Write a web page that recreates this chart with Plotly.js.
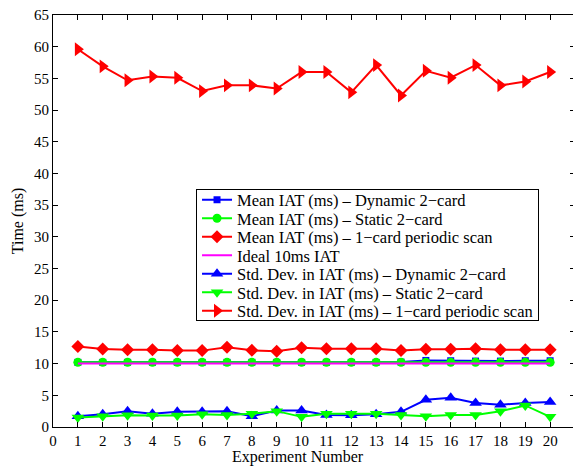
<!DOCTYPE html>
<html>
<head>
<meta charset="utf-8">
<script src="https://cdn.plot.ly/plotly-3.0.1.min.js"></script>
<style>html,body{margin:0;padding:0;overflow:hidden;background:#fff;}#chart{width:600px;height:466px;}</style>
</head>
<body>
<div id="chart"></div>
<script>
var experiments = [1,2,3,4,5,6,7,8,9,10,11,12,13,14,15,16,17,18,19,20];
var meanDynamic = [10.2,10.2,10.2,10.2,10.2,10.2,10.2,10.2,10.2,10.2,10.2,10.2,10.2,10.25,10.5,10.45,10.4,10.4,10.45,10.45];
var meanStatic = [10.2,10.2,10.2,10.2,10.2,10.2,10.2,10.2,10.2,10.2,10.2,10.2,10.2,10.2,10.2,10.2,10.2,10.2,10.2,10.2];
var mean1Card = [12.7,12.3,12.2,12.2,12.05,12.05,12.6,12.1,11.95,12.5,12.35,12.35,12.35,12.05,12.25,12.25,12.35,12.2,12.2,12.2];
var ideal = [10,10,10,10,10,10,10,10,10,10,10,10,10,10,10,10,10,10,10,10];
var stdDynamic = [1.7,2.0,2.5,2.1,2.4,2.4,2.5,1.7,2.6,2.6,1.9,1.85,2.0,2.4,4.3,4.6,3.8,3.5,3.8,3.95];
var stdStatic = [1.5,1.7,1.85,1.8,1.8,2.0,1.9,2.1,2.5,1.6,2.1,2.1,2.1,1.9,1.7,1.9,1.9,2.5,3.4,1.6];
var std1Card = [59.6,56.9,54.7,55.3,55.1,53.0,53.9,53.9,53.4,56.0,56.0,52.8,57.1,52.3,56.2,55.1,57.1,53.9,54.5,56.0];
var names = [
  'Mean IAT (ms) \u2013 Dynamic 2\u2212card',
  'Mean IAT (ms) \u2013 Static 2\u2212card',
  'Mean IAT (ms) \u2013 1\u2212card periodic scan',
  'Ideal 10ms IAT',
  'Std. Dev. in IAT (ms) \u2013 Dynamic 2\u2212card',
  'Std. Dev. in IAT (ms) \u2013 Static 2\u2212card',
  'Std. Dev. in IAT (ms) \u2013 1\u2212card periodic scan'
];
var xTicks = [0,1,2,3,4,5,6,7,8,9,10,11,12,13,14,15,16,17,18,19,20];
var yTicks = [0,5,10,15,20,25,30,35,40,45,50,55,60,65];

function tr(y, name, color, symbol, size, mode) {
  return {x: experiments, y: y, name: name, type: 'scatter', mode: mode || 'lines+markers',
    line: {color: color, width: 2}, marker: {color: color, symbol: symbol, size: size}};
}
var data = [
  tr(meanDynamic, names[0], '#0000ff', 'square', 7),
  tr(meanStatic, names[1], '#00ff00', 'circle', 9),
  tr(mean1Card, names[2], '#ff0000', 'diamond', 10),
  tr(ideal, names[3], '#ff00ff', 'circle', 1, 'lines'),
  tr(stdDynamic, names[4], '#0000ff', 'triangle-up', 11),
  tr(stdStatic, names[5], '#00ff00', 'triangle-down', 11),
  tr(std1Card, names[6], '#ff0000', 'triangle-right', 12)
];
var fontFam = 'Liberation Serif, Times New Roman, serif';
var layout = {
  width: 600, height: 466,
  margin: {l: 53, r: 25, t: 15, b: 39},
  paper_bgcolor: '#fff', plot_bgcolor: '#fff',
  font: {family: fontFam, size: 15, color: '#000'},
  showlegend: true,
  legend: {x: 0.274, y: 0.577, xanchor: 'left', yanchor: 'top',
    bgcolor: '#fff', bordercolor: '#000', borderwidth: 1,
    font: {family: fontFam, size: 16.5, color: '#000'}, itemwidth: 30, tracegroupgap: 0},
  xaxis: {range: [0, 21], tickvals: xTicks, ticktext: xTicks.map(String),
    ticks: 'inside', ticklen: 5, tickcolor: '#000', showline: true, linecolor: '#000', linewidth: 1,
    mirror: 'allticks', showgrid: false, zeroline: false, tickfont: {size: 15}},
  yaxis: {range: [0, 65], tickvals: yTicks, ticks: 'inside', ticklen: 5, tickcolor: '#000',
    showline: true, linecolor: '#000', linewidth: 1, mirror: 'allticks', showgrid: false, zeroline: false,
    tickfont: {size: 15}, title: {text: 'Time (ms)', font: {size: 16}, standoff: 6}},
  annotations: [{text: 'Experiment Number', xref: 'paper', yref: 'paper', x: 0.47, y: 0,
    xanchor: 'center', yanchor: 'top', yshift: -19, showarrow: false, font: {size: 16, family: fontFam}}]
};
Plotly.newPlot('chart', data, layout, {displayModeBar: false, staticPlot: true}).then(function (gd) {
  // tighten legend row spacing to match the reference (MATLAB-style compact legend)
  var items = gd.querySelectorAll('.legend .traces');
  var rowH = 18.5, firstY = 10.5;
  for (var i = 0; i < items.length; i++) {
    items[i].setAttribute('transform', 'translate(1,' + (firstY + i * rowH) + ')');
  }
  var bg = gd.querySelector('.legend rect.bg');
  if (bg) bg.setAttribute('height', firstY + (items.length - 1) * rowH + 9.5);
});
</script>
</body>
</html>
